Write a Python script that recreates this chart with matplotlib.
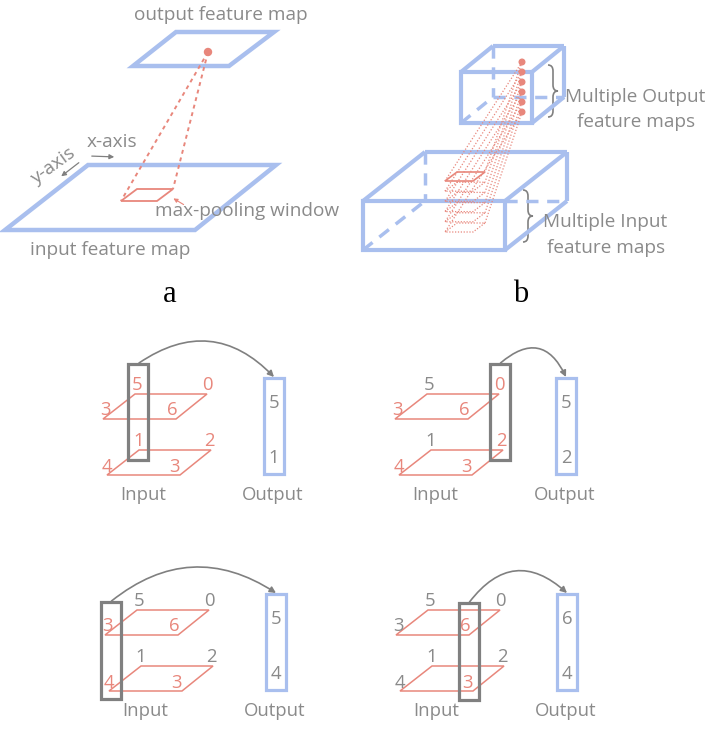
import matplotlib
matplotlib.use("Agg")
import matplotlib.pyplot as plt
from matplotlib.patches import Polygon, Rectangle, FancyArrowPatch, PathPatch, Circle
from matplotlib.path import Path

# ---------------- data ----------------
# values of the two 2x2 input layers: [back-left, back-right, front-left, front-right]
top_layer_values = [5, 0, 3, 6]
bottom_layer_values = [1, 2, 4, 3]
# pooled output for each of the four sub-panels (TL, TR, BL, BR)
output_values = [[5, 1], [5, 2], [5, 4], [6, 4]]
# which column of the input is selected in each sub-panel
selected_column = ["back-left", "back-right", "front-left", "front-right"]
# 1 = number drawn in red (still to be processed), 0 = grey
red_mask = [[1, 1, 1, 1], [0, 1, 1, 1], [0, 0, 1, 1], [0, 0, 0, 1]]
panel_a_labels = ["output feature map", "x-axis", "y-axis", "max-pooling window", "input feature map"]
panel_b_labels = ["Multiple Output", "feature maps", "Multiple Input", "feature maps"]
sub_labels = ["a", "b"]
io_labels = ["Input", "Output"]

# ---------------- style ----------------
BLUE = "#a9bfee"
RED = "#e8877c"
GREY_T = "#8a8a8a"
GREY_B = "#808080"
FONT = "Open Sans"

fig = plt.figure(figsize=(7.14, 7.44), dpi=100)
ax = fig.add_axes([0, 0, 1, 1])
ax.set_xlim(0, 714)
ax.set_ylim(744, 0)
ax.axis("off")


def poly(pts, color, lw, ls="-", dashes=None, z=2):
    p = Polygon(pts, closed=True, fill=False, edgecolor=color, lw=lw, linestyle=ls, zorder=z,
                joinstyle="miter")
    if dashes is not None:
        p.set_linestyle((0, dashes))
    ax.add_patch(p)


def line(p, q, color, lw, dashes=None, z=2):
    l, = ax.plot([p[0], q[0]], [p[1], q[1]], color=color, lw=lw, zorder=z, solid_capstyle="butt")
    if dashes is not None:
        l.set_dashes(dashes)
    return l


def txt(x, y, s, size, color=GREY_T, ha="center", va="center", **kw):
    ax.text(x, y, s, fontsize=size, color=color, ha=ha, va=va, family=FONT, **kw)


def brace(x, y0, y1, w, color=GREY_B, lw=1.2):
    h = w / 2.0
    ym = (y0 + y1) / 2.0
    r = min(6, (y1 - y0) / 6)
    verts = [(x, y0), (x + h, y0), (x + h, y0 + r),
             (x + h, ym - r),
             (x + h, ym), (x + w, ym),
             (x + h, ym), (x + h, ym + r),
             (x + h, y1 - r),
             (x + h, y1), (x, y1)]
    codes = [Path.MOVETO, Path.CURVE3, Path.CURVE3, Path.LINETO, Path.CURVE3, Path.CURVE3,
             Path.CURVE3, Path.CURVE3, Path.LINETO, Path.CURVE3, Path.CURVE3]
    ax.add_patch(PathPatch(Path(verts, codes), fill=False, edgecolor=color, lw=lw))


# ================= panel a =================
txt(221, 15, panel_a_labels[0], 13.7)
poly([(133, 66), (176, 32), (274, 32), (229, 66)], BLUE, 3.2)
poly([(5, 230), (88, 165), (276, 165), (195, 230)], BLUE, 3.2)
win = [(121, 201), (137, 189), (173, 189), (157, 201)]
poly(win, RED, 1.3, z=3)
dot = (208, 52)
ax.add_patch(Circle(dot, 3.5, color=RED, zorder=4))
line(dot, win[0], RED, 1.4, dashes=(2, 2))
line(dot, win[2], RED, 1.4, dashes=(2, 2))
txt(155, 211, panel_a_labels[3], 13.7, ha="left")
ax.add_patch(FancyArrowPatch((186, 206), (171, 197), arrowstyle="-|>", mutation_scale=6,
                             color=RED, lw=0.8, zorder=5))
txt(30, 250, panel_a_labels[4], 13.7, ha="left")
txt(87, 142, panel_a_labels[1], 13.7, ha="left")
ax.add_patch(FancyArrowPatch((89, 156), (117, 157), arrowstyle="-|>", mutation_scale=7,
                             color=GREY_B, lw=0.9))
txt(53, 166, panel_a_labels[2], 13.7, rotation=36)
ax.add_patch(FancyArrowPatch((81, 161), (59, 178), arrowstyle="-|>", mutation_scale=7,
                             color=GREY_B, lw=0.9))
ax.text(170, 295, sub_labels[0], fontsize=22, family="Liberation Serif", ha="center",
        va="center", color="black")

# ================= panel b =================
DASH = (3.5, 2.5)
# small cube
fx0, fx1, fy0, fy1 = 461, 532, 72, 123
dx, dy = 32, -26
poly([(fx0, fy0), (fx1, fy0), (fx1, fy1), (fx0, fy1)], BLUE, 3)
line((fx0, fy0), (fx0 + dx, fy0 + dy), BLUE, 3)
line((fx0 + dx, fy0 + dy), (fx1 + dx, fy0 + dy), BLUE, 3)
line((fx1, fy0), (fx1 + dx, fy0 + dy), BLUE, 3)
line((fx1 + dx, fy0 + dy), (fx1 + dx, fy1 + dy), BLUE, 3)
line((fx1, fy1), (fx1 + dx, fy1 + dy), BLUE, 3)
line((fx0 + dx, fy0 + dy), (fx0 + dx, fy1 + dy), BLUE, 2.5, dashes=DASH)
line((fx0 + dx, fy1 + dy), (fx1 + dx, fy1 + dy), BLUE, 2.5, dashes=DASH)
line((fx0, fy1), (fx0 + dx, fy1 + dy), BLUE, 2.5, dashes=DASH)
# big box
bx0, bx1, by0, by1 = 363, 505, 201, 250
ddx, ddy = 62, -49
poly([(bx0, by0), (bx1, by0), (bx1, by1), (bx0, by1)], BLUE, 3)
line((bx0, by0), (bx0 + ddx, by0 + ddy), BLUE, 3)
line((bx0 + ddx, by0 + ddy), (bx1 + ddx, by0 + ddy), BLUE, 3)
line((bx1, by0), (bx1 + ddx, by0 + ddy), BLUE, 3)
line((bx1 + ddx, by0 + ddy), (bx1 + ddx, by1 + ddy), BLUE, 3)
line((bx1, by1), (bx1 + ddx, by1 + ddy), BLUE, 3)
line((bx0 + ddx, by0 + ddy), (bx0 + ddx, by1 + ddy), BLUE, 2.5, dashes=DASH)
line((bx1, by1 + ddy), (bx1 + ddx, by1 + ddy), BLUE, 2.5, dashes=DASH)
line((bx0, by1), (bx0 + ddx, by1 + ddy), BLUE, 2.5, dashes=DASH)

# dots and windows
n_maps = 6
wbase = [(445, 181), (457, 172), (485, 172), (473, 181)]
for i in range(n_maps):
    dyw = i * 10.2
    d = (522, 62 + i * 10)
    ax.add_patch(Circle(d, 2.8, color=RED, zorder=4))
    w = [(x, y + dyw) for x, y in wbase]
    if i == 0:
        poly(w, RED, 1.2, z=3)
    else:
        poly(w, RED, 0.9, dashes=(1, 1.3), z=3)
    line(d, w[0], RED, 0.9, dashes=(1, 1.5))
    line(d, w[2], RED, 0.9, dashes=(1, 1.5))

brace(548, 65, 117, 10)
brace(523, 190, 242, 10)
txt(565, 97, panel_b_labels[0], 13.7, ha="left")
txt(577, 122, panel_b_labels[1], 13.7, ha="left")
txt(543, 222, panel_b_labels[2], 13.7, ha="left")
txt(547, 248, panel_b_labels[3], 13.7, ha="left")
ax.text(521, 295, sub_labels[1], fontsize=22, family="Liberation Serif", ha="center",
        va="center", color="black")

# ================= bottom panels =================
offsets = [(0, 0), (292, 0), (2, 216), (293, 216)]
top_num_pos = [(137, 385), (207, 385), (105, 410), (172, 410)]
layer_shift = (2, 56.5)
para = [(103, 419), (135, 394), (207, 394), (176, 419)]
box_geom = {"back-left": (138, 364, 460), "back-right": (207.5, 364, 460),
            "front-left": (108.5, 386, 483), "front-right": (175.5, 387, 484)}
arc_rad = [-0.42, -0.65, -0.36, -0.54]

for k, (ox, oy) in enumerate(offsets):
    # layers
    for L in range(2):
        sx, sy = ox + L * 4, oy + L * 56
        poly([(x + sx, y + sy) for x, y in para], RED, 1.1)
    # numbers
    for L, vals in enumerate([top_layer_values, bottom_layer_values]):
        for j, v in enumerate(vals):
            px, py = top_num_pos[j]
            px += ox + L * layer_shift[0]
            py += oy + L * layer_shift[1]
            c = RED if red_mask[k][j] else GREY_T
            txt(px, py, str(v), 13.3, color=c, zorder=5)
    # selection box
    cx, y0, y1 = box_geom[selected_column[k]]
    ax.add_patch(Rectangle((cx - 10 + ox, y0 + oy), 20, y1 - y0, fill=False, edgecolor=GREY_B,
                           lw=2.3, zorder=6))
    # output box
    ax.add_patch(Rectangle((264 + ox, 378 + oy), 20, 96, fill=False, edgecolor=BLUE, lw=2.3))
    txt(274 + ox, 403 + oy, str(output_values[k][0]), 13.3)
    txt(274 + ox, 458 + oy, str(output_values[k][1]), 13.3)
    # arrow
    ax.add_patch(FancyArrowPatch((cx + ox + 1, y0 + oy - 1), (274 + ox, 377 + oy),
                                 connectionstyle=f"arc3,rad={arc_rad[k]}",
                                 arrowstyle="-|>", mutation_scale=9, color=GREY_B, lw=1.2,
                                 shrinkA=0, shrinkB=0, zorder=6))
    txt(143 + ox, 495 + oy, io_labels[0], 13.3)
    txt(273 + ox, 495 + oy, io_labels[1], 13.3)

fig.savefig("out.png", dpi=100, facecolor="white")
